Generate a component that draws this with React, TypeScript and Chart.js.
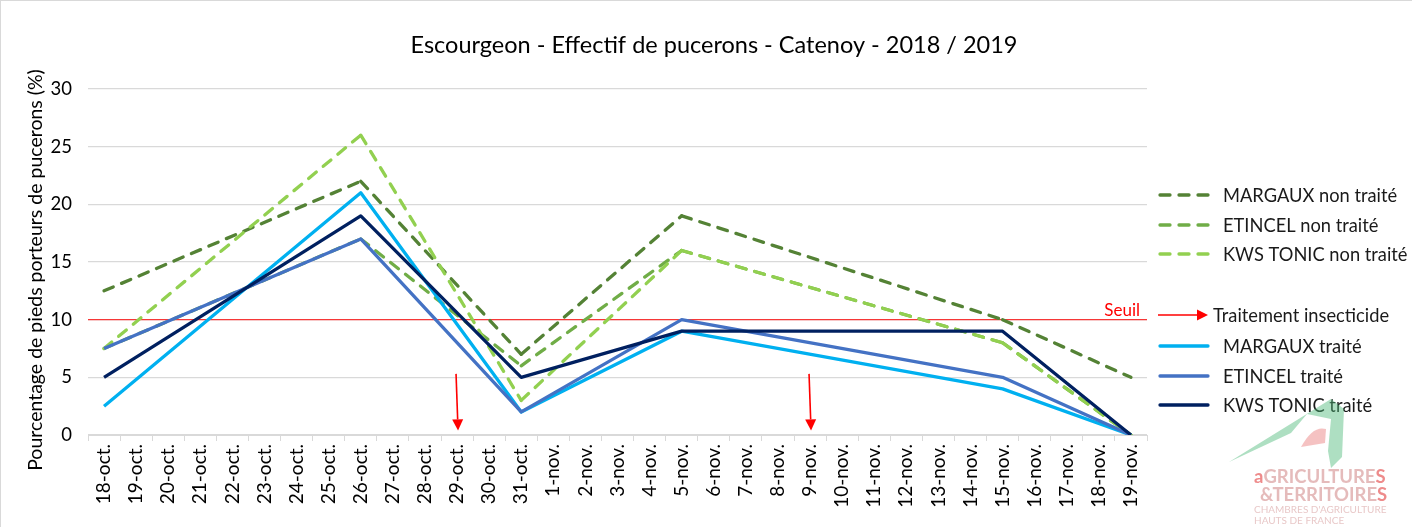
import React, { useEffect, useRef } from "react";
import { Chart, registerables } from "chart.js";

Chart.register(...registerables);

const FONT = "Lato";

const categories = [
  "18-oct.", "19-oct.", "20-oct.", "21-oct.", "22-oct.", "23-oct.", "24-oct.", "25-oct.",
  "26-oct.", "27-oct.", "28-oct.", "29-oct.", "30-oct.", "31-oct.",
  "1-nov.", "2-nov.", "3-nov.", "4-nov.", "5-nov.", "6-nov.", "7-nov.", "8-nov.", "9-nov.",
  "10-nov.", "11-nov.", "12-nov.", "13-nov.", "14-nov.", "15-nov.", "16-nov.", "17-nov.",
  "18-nov.", "19-nov.",
];

const sampleDates = ["18-oct.", "26-oct.", "31-oct.", "5-nov.", "15-nov.", "19-nov."];

const margauxNonTraite = [12.5, 22, 7, 19, 10, 5];
const etincelNonTraite = [7.5, 17, 6, 16, 8, 0];
const kwsTonicNonTraite = [7.5, 26, 3, 16, 8, 0];
const margauxTraite = [2.5, 21, 2, 9, 4, 0];
const etincelTraite = [7.5, 17, 2, 10, 5, 0];
const kwsTonicTraite = [5, 19, 5, 9, 9, 0];

const treatmentDates = ["29-oct.", "9-nov."];
const arrowTop = 5.3;
const arrowTip = 0.4;
const seuil = 10;

const yTicks = [0, 5, 10, 15, 20, 25, 30];

const title = "Escourgeon - Effectif de pucerons - Catenoy - 2018 / 2019";
const yTitle = "Pourcentage de pieds porteurs de pucerons (%)";

const seriesDefs = [
  { label: "MARGAUX non traité", values: margauxNonTraite, color: "#548235", dashed: true, order: 5 },
  { label: "ETINCEL non traité", values: etincelNonTraite, color: "#70AD47", dashed: true, order: 4 },
  { label: "KWS TONIC non traité", values: kwsTonicNonTraite, color: "#92D050", dashed: true, order: 3 },
  { label: "MARGAUX traité", values: margauxTraite, color: "#00B0F0", dashed: false, order: 2 },
  { label: "ETINCEL traité", values: etincelTraite, color: "#4472C4", dashed: false, order: 1 },
  { label: "KWS TONIC traité", values: kwsTonicTraite, color: "#002060", dashed: false, order: 0 },
];

const DASH = [10, 9];
const LW = 3.3;

const overlayPlugin = {
  id: "overlay",
  beforeDatasetsDraw(chart: any) {
    const { ctx, chartArea, scales } = chart;
    const y = scales.y.getPixelForValue(seuil);
    ctx.save();
    ctx.strokeStyle = "#FF0000";
    ctx.globalAlpha = 0.75;
    ctx.lineWidth = 1.2;
    ctx.beginPath();
    ctx.moveTo(chartArea.left, y);
    ctx.lineTo(chartArea.right, y);
    ctx.stroke();
    ctx.restore();
  },
  afterDraw(chart: any) {
    const { ctx, chartArea, scales } = chart;
    ctx.save();
    // title
    ctx.fillStyle = "#000";
    ctx.font = `23.5px ${FONT}`;
    ctx.textAlign = "center";
    ctx.textBaseline = "middle";
    ctx.fillText(title, 713, 44);

    // y title
    ctx.save();
    ctx.translate(35, 269);
    ctx.rotate(-Math.PI / 2);
    ctx.font = `19.5px ${FONT}`;
    ctx.fillText(yTitle, 0, 0);
    ctx.restore();

    // seuil label
    const ys = scales.y.getPixelForValue(seuil);
    ctx.fillStyle = "#FF0000";
    ctx.font = `17px ${FONT}`;
    ctx.textAlign = "right";
    ctx.textBaseline = "bottom";
    ctx.fillText("Seuil", chartArea.right - 7, ys - 1);

    // treatment arrows
    const drawArrow = (x1: number, y1: number, x2: number, y2: number) => {
      ctx.strokeStyle = "#FF0000";
      ctx.fillStyle = "#FF0000";
      ctx.lineWidth = 1.6;
      const ang = Math.atan2(y2 - y1, x2 - x1);
      const hl = 11;
      const hw = 5.5;
      const bx = x2 - Math.cos(ang) * hl;
      const by = y2 - Math.sin(ang) * hl;
      ctx.beginPath();
      ctx.moveTo(x1, y1);
      ctx.lineTo(bx, by);
      ctx.stroke();
      ctx.beginPath();
      ctx.moveTo(x2, y2);
      ctx.lineTo(bx + Math.sin(ang) * hw, by - Math.cos(ang) * hw);
      ctx.lineTo(bx - Math.sin(ang) * hw, by + Math.cos(ang) * hw);
      ctx.closePath();
      ctx.fill();
    };
    treatmentDates.forEach((d) => {
      const x = scales.x.getPixelForValue(categories.indexOf(d));
      drawArrow(x - 1, scales.y.getPixelForValue(arrowTop), x + 1, scales.y.getPixelForValue(arrowTip));
    });

    // legend
    const lx1 = 1157;
    const lx2 = 1207;
    const legendY = [194, 224, 253, 345, 375, 404];
    ctx.font = `18.3px ${FONT}`;
    ctx.textAlign = "left";
    ctx.textBaseline = "middle";
    seriesDefs.forEach((s, i) => {
      const y = legendY[i];
      ctx.strokeStyle = s.color;
      ctx.lineWidth = LW;
      ctx.lineCap = "round";
      ctx.setLineDash(s.dashed ? DASH : []);
      ctx.beginPath();
      ctx.moveTo(lx1 + 2, y);
      ctx.lineTo(lx2, y);
      ctx.stroke();
      ctx.setLineDash([]);
      ctx.fillStyle = "#1a1a1a";
      ctx.fillText(s.label, 1222, y + 1);
    });
    ctx.lineCap = "butt";
    drawArrow(lx1, 314, lx2, 314);
    ctx.fillStyle = "#1a1a1a";
    ctx.fillText("Traitement insecticide", 1212, 315);

    // watermark logo
    ctx.globalAlpha = 0.45;
    ctx.fillStyle = "#4cb877";
    ctx.beginPath();
    ctx.moveTo(1228, 461);
    ctx.lineTo(1330, 398);
    ctx.lineTo(1343, 408);
    ctx.lineTo(1341, 456);
    ctx.lineTo(1330, 467);
    ctx.lineTo(1327, 450);
    ctx.lineTo(1330, 418);
    ctx.lineTo(1306, 413);
    ctx.lineTo(1290, 432);
    ctx.closePath();
    ctx.fill();
    ctx.fillStyle = "#e87878";
    ctx.beginPath();
    ctx.moveTo(1300, 446);
    ctx.quadraticCurveTo(1312, 424, 1325, 428);
    ctx.lineTo(1324, 442);
    ctx.closePath();
    ctx.fill();
    ctx.globalAlpha = 0.75;
    ctx.textAlign = "left";
    ctx.textBaseline = "alphabetic";
    ctx.font = `bold 18.5px ${FONT}`;
    ctx.fillStyle = "#e86464";
    ctx.fillText("a", 1253, 482);
    const aw = ctx.measureText("a").width;
    ctx.fillStyle = "#dca4a4";
    ctx.fillText("GRICULTURE", 1253 + aw, 482);
    const gw = ctx.measureText("GRICULTURE").width;
    ctx.fillStyle = "#e86464";
    ctx.fillText("S", 1253 + aw + gw, 482);
    ctx.fillStyle = "#dca4a4";
    ctx.fillText("&TERRITOIRE", 1259, 500);
    const tw = ctx.measureText("&TERRITOIRE").width;
    ctx.fillStyle = "#e86464";
    ctx.fillText("S", 1259 + tw, 500);
    ctx.font = `10px ${FONT}`;
    ctx.fillStyle = "#e0b4b4";
    ctx.fillText("CHAMBRES D'AGRICULTURE", 1253, 512);
    ctx.fillText("HAUTS DE FRANCE", 1253, 523);
    ctx.restore();
  },
};

export default function App() {
  const canvasRef = useRef<HTMLCanvasElement | null>(null);

  useEffect(() => {
    const canvas = canvasRef.current;
    if (!canvas) return;
    const datasets = seriesDefs.map((s) => ({
      label: s.label,
      data: sampleDates.map((d, i) => ({ x: d, y: s.values[i] })),
      borderColor: s.color,
      backgroundColor: s.color,
      borderWidth: LW,
      borderDash: s.dashed ? DASH : [],
      borderCapStyle: s.dashed ? "round" : "butt",
      borderJoinStyle: "round",
      pointRadius: 0,
      tension: 0,
      fill: false,
      spanGaps: true,
      order: s.order,
      // restart the dash pattern at each data point (each segment drawn separately)
      segment: s.dashed
        ? { borderDashOffset: (c: any) => c.p0DataIndex * 0.0001 }
        : undefined,
    }));
    const chart = new Chart(canvas, {
      type: "line",
      data: { labels: categories, datasets: datasets as any },
      options: {
        animation: false,
        responsive: false,
        maintainAspectRatio: false,
        events: [],
        layout: { padding: { left: 0, right: 265, top: 88, bottom: 0 } },
        plugins: {
          legend: { display: false },
          title: { display: false },
          tooltip: { enabled: false },
        },
        scales: {
          x: {
            type: "category",
            offset: true,
            grid: {
              offset: true,
              drawOnChartArea: false,
              drawTicks: true,
              tickLength: 6,
              color: "#d9d9d9",
            },
            border: { display: true, color: "#d9d9d9" },
            ticks: {
              autoSkip: false,
              maxRotation: 90,
              minRotation: 90,
              padding: 3,
              color: "#000",
              font: { family: FONT, size: 19 },
            },
            afterFit: (s: any) => {
              s.height = 92;
            },
          },
          y: {
            min: 0,
            max: 30,
            afterBuildTicks: (s: any) => {
              s.ticks = yTicks.map((v) => ({ value: v }));
            },
            ticks: {
              padding: 16,
              color: "#000",
              font: { family: FONT, size: 18.5 },
            },
            grid: { color: "#d9d9d9", drawTicks: false, lineWidth: 1.3 },
            border: { display: false },
            afterFit: (s: any) => {
              s.width = 87;
            },
          },
        },
      },
      plugins: [overlayPlugin],
    });
    return () => chart.destroy();
  }, []);

  return (
    <div
      style={{
        position: "absolute",
        left: 0,
        top: 0,
        width: 1412,
        height: 527,
        background: "#fff",
        boxSizing: "border-box",
        borderLeft: "1px solid #d9d9d9",
        borderTop: "1px solid #d9d9d9",
      }}
    >
      <canvas ref={canvasRef} width={1411} height={526} style={{ display: "block" }} />
    </div>
  );
}
